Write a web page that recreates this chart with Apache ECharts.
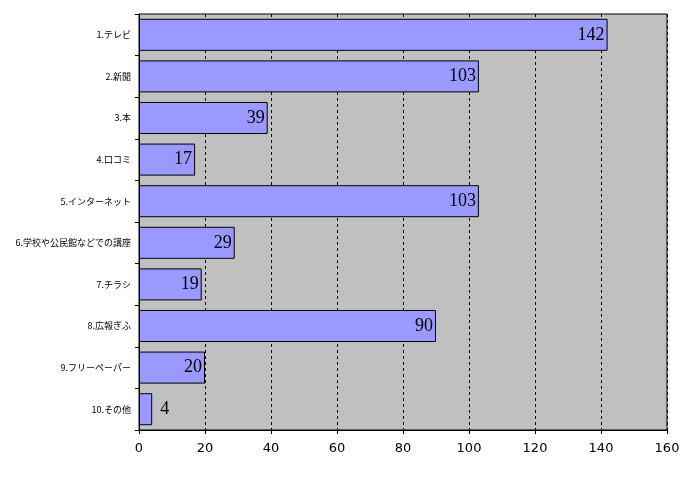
<!DOCTYPE html>
<html><head><meta charset="utf-8">
<script src="https://cdn.jsdelivr.net/npm/echarts@6/dist/echarts.min.js"></script>
<style>html,body{margin:0;padding:0;background:#fff}#c{width:688px;height:477px}</style>
</head><body><div id="c"></div>
<script>
const categories = ["1.テレビ","2.新聞","3.本","4.口コミ","5.インターネット","6.学校や公民館などでの講座","7.チラシ","8.広報ぎふ","9.フリーペーパー","10.その他"];
const values = [142,103,39,17,103,29,19,90,20,4];
const xTicks = [0,20,40,60,80,100,120,140,160];

const chart = echarts.init(document.getElementById('c'));
chart.setOption({
  animation:false,
  grid:{left:139,right:21,top:14,bottom:47,show:true,backgroundColor:'#C0C0C0',borderColor:'#000',borderWidth:1},
  xAxis:{type:'value',min:xTicks[0],max:xTicks[xTicks.length-1],interval:20,
    axisLine:{show:true,lineStyle:{color:'#000'}},axisTick:{show:true,length:4,lineStyle:{color:'#000'}},
    axisLabel:{color:'#000',fontSize:13,fontFamily:'DejaVu Sans',margin:12},
    splitLine:{show:true,lineStyle:{color:'#000',type:[3,3],width:1}}},
  yAxis:{type:'category',data:categories,inverse:true,
    axisLine:{show:true,lineStyle:{color:'#000'}},axisTick:{show:true,inside:false,length:4,lineStyle:{color:'#000'}},
    axisLabel:{color:'#000',fontSize:9,fontFamily:'Noto Sans CJK JP',margin:8}},
  series:[{type:'bar',barWidth:'77%',
    data:values.map(v=>({value:v,label:{position:v<10?'right':'insideRight',distance:v<10?8:3}})),
    itemStyle:{color:'#9999FF',borderColor:'#000',borderWidth:1},
    label:{show:true,color:'#000',fontSize:18,fontFamily:'Liberation Serif'}}]
});
</script></body></html>
